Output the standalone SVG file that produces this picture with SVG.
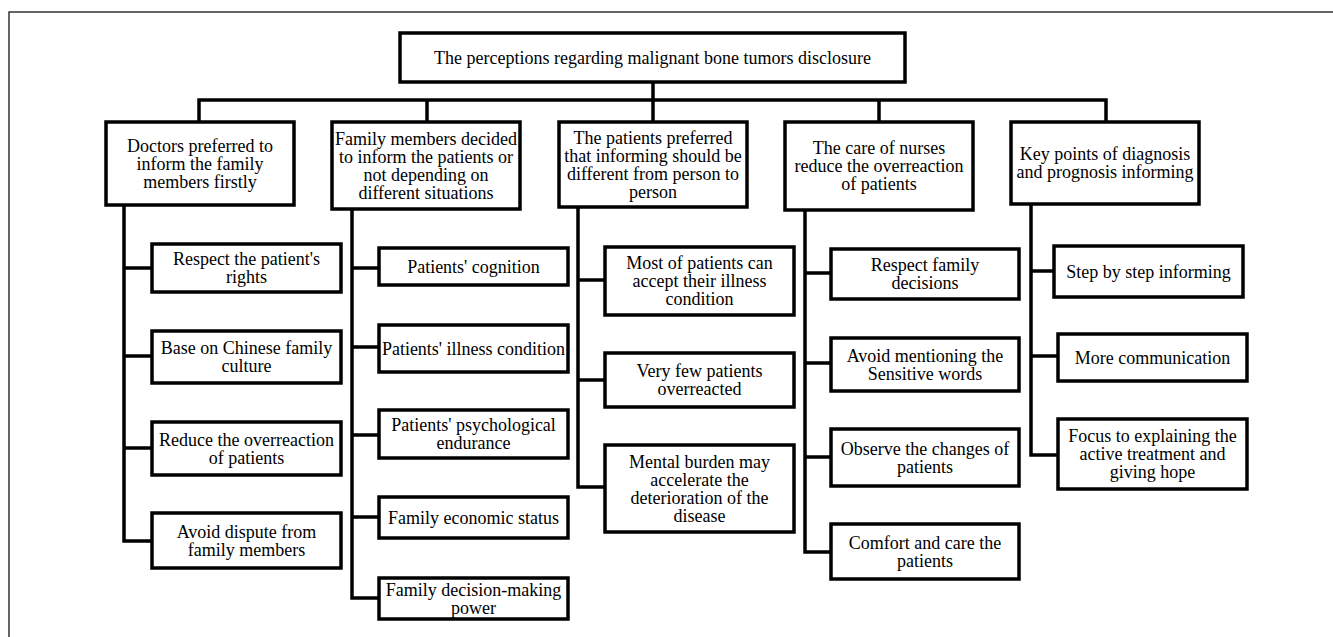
<svg xmlns="http://www.w3.org/2000/svg" width="1333" height="637" viewBox="0 0 1333 637">
<style>
.box{fill:#fff;stroke:#000;stroke-width:3.5}
.t{font-family:"Liberation Serif","Times New Roman",serif;font-size:18px;text-anchor:middle;fill:#000}
.c{fill:none;stroke:#000;stroke-width:3.5;stroke-linejoin:miter}
.frame{fill:none;stroke:#333;stroke-width:1.5}
</style>
<rect width="1333" height="637" fill="#fff"/>
<path class="frame" d="M9 637 V12 H1333"/>
<g id="connectors">
<path class="c" d="M653 82 V122 M199 122 V100 H1106 V122 M427 100 V122 M879 100 V122"/>
<path class="c" d="M124 205 V541 H152 M124 268 H152 M124 356 H152 M124 448 H152"/>
<path class="c" d="M352 209 V598 H379 M352 268 H379 M352 347 H379 M352 435 H379 M352 517 H379"/>
<path class="c" d="M578 207 V487 H605 M578 280 H605 M578 380 H605"/>
<path class="c" d="M805 210 V552 H831 M805 273 H831 M805 363 H831 M805 457 H831"/>
<path class="c" d="M1031 204 V455 H1058 M1031 271 H1054 M1031 356 H1058"/>
</g>
<g id="root"><rect class="box" x="400" y="33" width="505" height="49"/><text class="t" x="652.5" y="63.5">The perceptions regarding malignant bone tumors disclosure</text></g>
<g id="n1"><rect class="box" x="106" y="122" width="188" height="83"/><text class="t" x="200" y="151.5">Doctors preferred to</text><text class="t" x="200" y="169.5">inform the family</text><text class="t" x="200" y="187.5">members firstly</text></g>
<g id="n2"><rect class="box" x="332" y="122" width="188" height="87"/><text class="t" x="426" y="144.5">Family members decided</text><text class="t" x="426" y="162.5">to inform the patients or</text><text class="t" x="426" y="180.5">not depending on</text><text class="t" x="426" y="198.5">different situations</text></g>
<g id="n3"><rect class="box" x="559" y="122" width="188" height="85"/><text class="t" x="653" y="143.5">The patients preferred</text><text class="t" x="653" y="161.5">that informing should be</text><text class="t" x="653" y="179.5">different from person to</text><text class="t" x="653" y="197.5">person</text></g>
<g id="n4"><rect class="box" x="785" y="122" width="188" height="88"/><text class="t" x="879" y="154">The care of nurses</text><text class="t" x="879" y="172">reduce the overreaction</text><text class="t" x="879" y="190">of patients</text></g>
<g id="n5"><rect class="box" x="1011" y="122" width="188" height="82"/><text class="t" x="1105" y="160">Key points of diagnosis</text><text class="t" x="1105" y="178">and prognosis informing</text></g>
<g id="n1a"><rect class="box" x="152" y="244" width="189" height="48"/><text class="t" x="246.5" y="265">Respect the patient's</text><text class="t" x="246.5" y="283">rights</text></g>
<g id="n1b"><rect class="box" x="152" y="331" width="189" height="52"/><text class="t" x="246.5" y="354">Base on Chinese family</text><text class="t" x="246.5" y="372">culture</text></g>
<g id="n1c"><rect class="box" x="152" y="422" width="189" height="53"/><text class="t" x="246.5" y="445.5">Reduce the overreaction</text><text class="t" x="246.5" y="463.5">of patients</text></g>
<g id="n1d"><rect class="box" x="152" y="513" width="189" height="55"/><text class="t" x="246.5" y="537.5">Avoid dispute from</text><text class="t" x="246.5" y="555.5">family members</text></g>
<g id="n2a"><rect class="box" x="379" y="248" width="189" height="37"/><text class="t" x="473.5" y="272.5">Patients' cognition</text></g>
<g id="n2b"><rect class="box" x="379" y="325" width="189" height="47"/><text class="t" x="473.5" y="354.5">Patients' illness condition</text></g>
<g id="n2c"><rect class="box" x="379" y="410" width="189" height="48"/><text class="t" x="473.5" y="431">Patients' psychological</text><text class="t" x="473.5" y="449">endurance</text></g>
<g id="n2d"><rect class="box" x="379" y="497" width="189" height="41"/><text class="t" x="473.5" y="523.5">Family economic status</text></g>
<g id="n2e"><rect class="box" x="379" y="578" width="189" height="41"/><text class="t" x="473.5" y="595.5">Family decision-making</text><text class="t" x="473.5" y="613.5">power</text></g>
<g id="n3a"><rect class="box" x="605" y="247" width="189" height="68"/><text class="t" x="699.5" y="269">Most of patients can</text><text class="t" x="699.5" y="287">accept their illness</text><text class="t" x="699.5" y="305">condition</text></g>
<g id="n3b"><rect class="box" x="605" y="353" width="189" height="54"/><text class="t" x="699.5" y="377">Very few patients</text><text class="t" x="699.5" y="395">overreacted</text></g>
<g id="n3c"><rect class="box" x="605" y="445" width="189" height="87"/><text class="t" x="699.5" y="467.5">Mental burden may</text><text class="t" x="699.5" y="485.5">accelerate the</text><text class="t" x="699.5" y="503.5">deterioration of the</text><text class="t" x="699.5" y="521.5">disease</text></g>
<g id="n4a"><rect class="box" x="831" y="249" width="188" height="50"/><text class="t" x="925" y="271">Respect family</text><text class="t" x="925" y="289">decisions</text></g>
<g id="n4b"><rect class="box" x="831" y="338" width="188" height="53"/><text class="t" x="925" y="361.5">Avoid mentioning the</text><text class="t" x="925" y="379.5">Sensitive words</text></g>
<g id="n4c"><rect class="box" x="831" y="429" width="188" height="57"/><text class="t" x="925" y="454.5">Observe the changes of</text><text class="t" x="925" y="472.5">patients</text></g>
<g id="n4d"><rect class="box" x="831" y="524" width="188" height="55"/><text class="t" x="925" y="548.5">Comfort and care the</text><text class="t" x="925" y="566.5">patients</text></g>
<g id="n5a"><rect class="box" x="1054" y="246" width="189" height="51"/><text class="t" x="1148.5" y="277.5">Step by step informing</text></g>
<g id="n5b"><rect class="box" x="1058" y="334" width="189" height="47"/><text class="t" x="1152.5" y="363.5">More communication</text></g>
<g id="n5c"><rect class="box" x="1058" y="419" width="189" height="70"/><text class="t" x="1152.5" y="442">Focus to explaining the</text><text class="t" x="1152.5" y="460">active treatment and</text><text class="t" x="1152.5" y="478">giving hope</text></g>
</svg>
